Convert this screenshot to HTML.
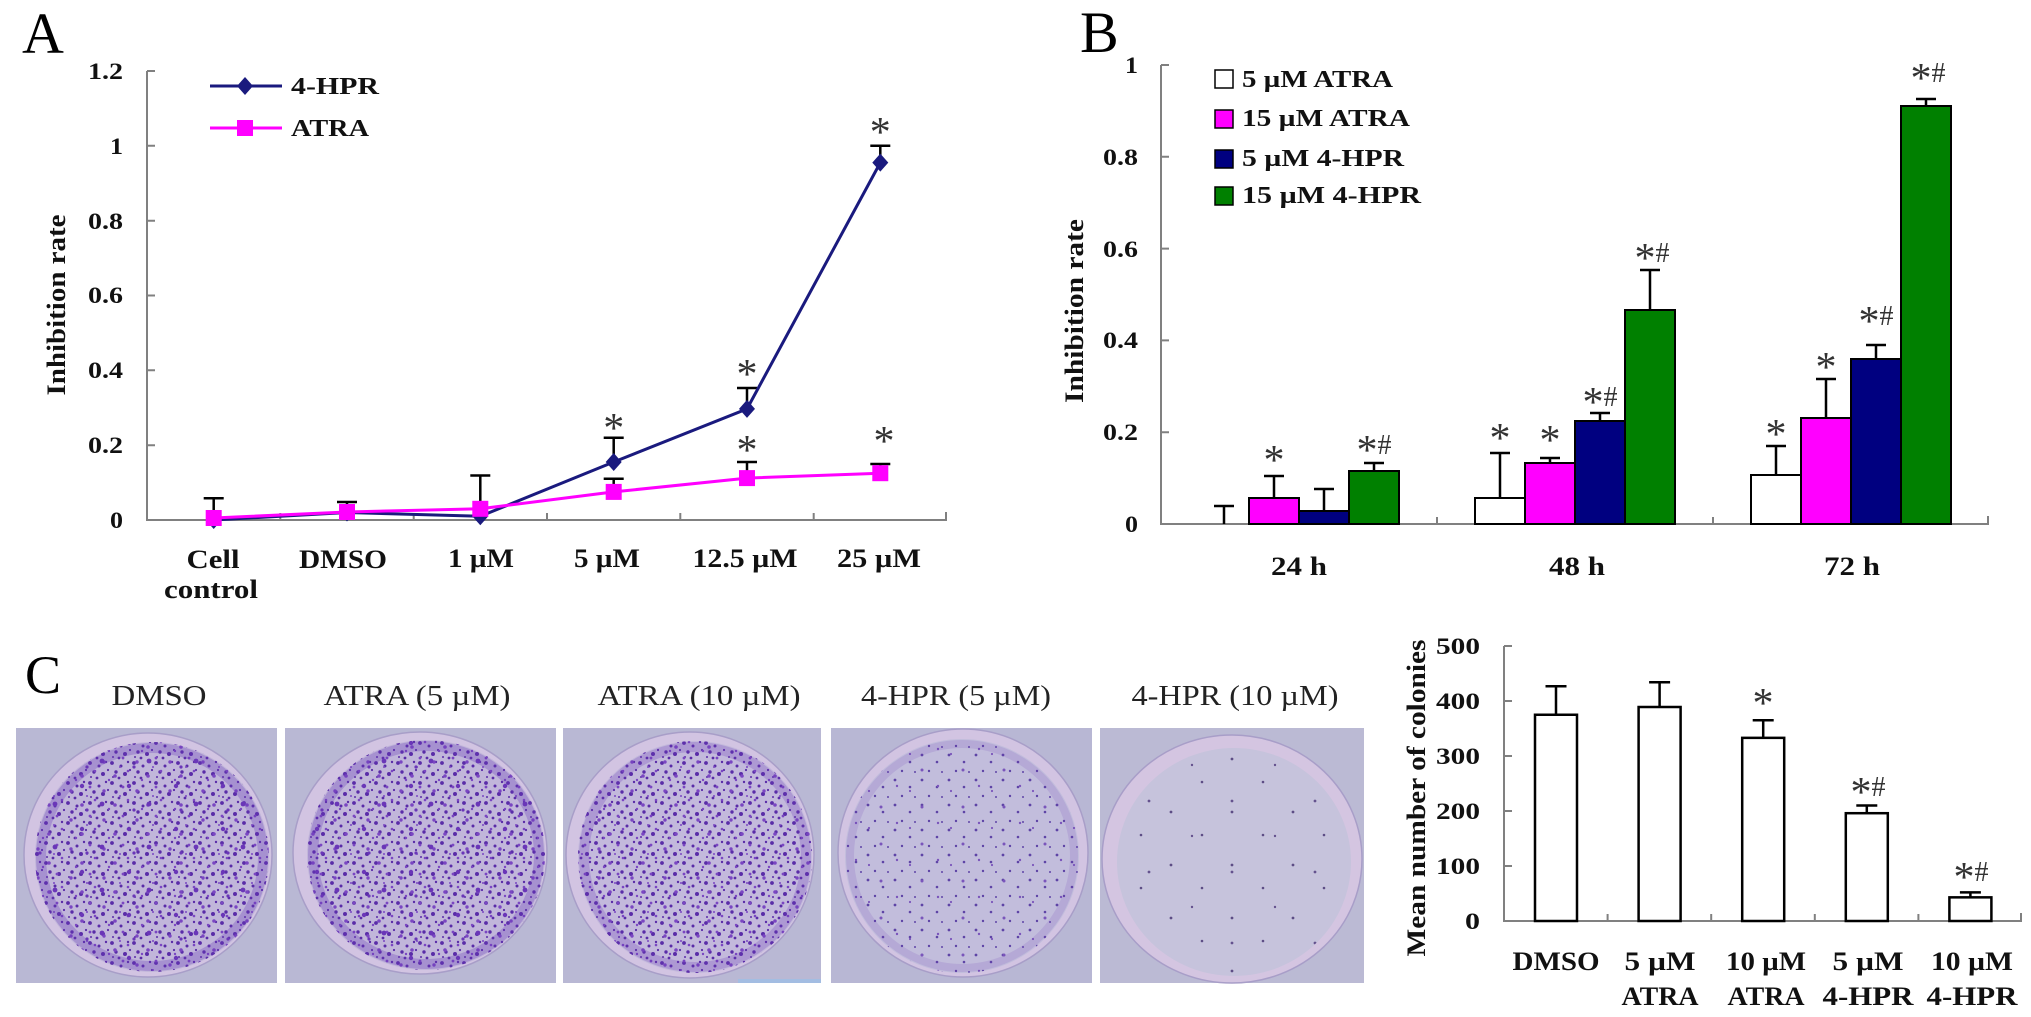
<!DOCTYPE html>
<html><head><meta charset="utf-8">
<style>
html,body{margin:0;padding:0;background:#fff;}
svg{display:block}
text{font-family:"Liberation Serif",serif;}
</style></head>
<body>
<svg width="2031" height="1017" viewBox="0 0 2031 1017" xmlns="http://www.w3.org/2000/svg">
<defs>
<pattern id="pd1" width="22" height="20" patternUnits="userSpaceOnUse">
<g fill="#5a2ca8"><circle cx="2" cy="3" r="1.9"/><circle cx="11" cy="6" r="1.5"/><circle cx="18" cy="2" r="1.2"/><circle cx="6" cy="12" r="1.7"/><circle cx="15" cy="14" r="2"/><circle cx="20" cy="10" r="1.1"/><circle cx="9" cy="18" r="1.4"/><circle cx="3" cy="17" r="1"/></g>
</pattern>
<pattern id="pd2" width="33" height="29" patternUnits="userSpaceOnUse">
<g fill="#7a46c2"><circle cx="5" cy="8" r="1.7"/><circle cx="24" cy="4" r="1.4"/><circle cx="16" cy="22" r="1.8"/><circle cx="29" cy="17" r="1.3"/><circle cx="10" cy="26" r="1.2"/><circle cx="21" cy="13" r="1"/></g>
</pattern>
<pattern id="pd3" width="47" height="43" patternUnits="userSpaceOnUse">
<g fill="#6a36b8"><circle cx="8" cy="30" r="2.4"/><circle cx="35" cy="12" r="2.2"/><circle cx="40" cy="36" r="1.6"/></g>
</pattern>
<pattern id="pm1" width="27" height="25" patternUnits="userSpaceOnUse">
<g fill="#5e44a6"><circle cx="4" cy="5" r="1.4"/><circle cx="19" cy="12" r="1.3"/><circle cx="11" cy="21" r="1.2"/><circle cx="24" cy="22" r="1"/></g>
</pattern>
<pattern id="pm2" width="41" height="37" patternUnits="userSpaceOnUse">
<g fill="#7a55bb"><circle cx="20" cy="30" r="1.5"/><circle cx="36" cy="9" r="1.2"/><circle cx="8" cy="14" r="1.1"/></g>
</pattern>
<pattern id="ps1" width="61" height="53" patternUnits="userSpaceOnUse">
<g fill="#5d4d85"><circle cx="12" cy="17" r="1.4"/><circle cx="43" cy="40" r="1.3"/></g>
</pattern>
<pattern id="ps2" width="83" height="71" patternUnits="userSpaceOnUse">
<g fill="#64528e"><circle cx="30" cy="55" r="1.2"/><circle cx="70" cy="20" r="1.4"/></g>
</pattern>
</defs>

<!-- ================= PANEL A ================= -->
<text x="22" y="53" font-size="58">A</text>
<g stroke="#808080" stroke-width="2" fill="none">
<path d="M147,71 V520 H947"/>
<path d="M147,71 h8 M147,145.8 h8 M147,220.7 h8 M147,295.5 h8 M147,370.3 h8 M147,445.2 h8"/>
<path d="M280.3,520 v-7 M413.7,520 v-7 M547,520 v-7 M680.3,520 v-7 M813.7,520 v-7 M946,520 v-8"/>
</g>
<g font-weight="bold" font-size="23" text-anchor="end" fill="#111">
<text x="123" y="79" textLength="35" lengthAdjust="spacingAndGlyphs">1.2</text>
<text x="123" y="154" textLength="13" lengthAdjust="spacingAndGlyphs">1</text>
<text x="123" y="229" textLength="35" lengthAdjust="spacingAndGlyphs">0.8</text>
<text x="123" y="303" textLength="35" lengthAdjust="spacingAndGlyphs">0.6</text>
<text x="123" y="378" textLength="35" lengthAdjust="spacingAndGlyphs">0.4</text>
<text x="123" y="453" textLength="35" lengthAdjust="spacingAndGlyphs">0.2</text>
<text x="123" y="528" textLength="13" lengthAdjust="spacingAndGlyphs">0</text>
</g>
<text transform="translate(65,305) rotate(-90)" text-anchor="middle" font-weight="bold" font-size="26" textLength="181" lengthAdjust="spacingAndGlyphs" fill="#111">Inhibition rate</text>
<g font-weight="bold" font-size="26" text-anchor="middle" fill="#111">
<text x="213" y="568" textLength="53" lengthAdjust="spacingAndGlyphs">Cell</text>
<text x="211" y="598" textLength="94" lengthAdjust="spacingAndGlyphs">control</text>
<text x="343" y="568" textLength="88" lengthAdjust="spacingAndGlyphs">DMSO</text>
<text x="481" y="567" textLength="66" lengthAdjust="spacingAndGlyphs">1 µM</text>
<text x="607" y="567" textLength="66" lengthAdjust="spacingAndGlyphs">5 µM</text>
<text x="745" y="567" textLength="105" lengthAdjust="spacingAndGlyphs">12.5 µM</text>
<text x="879" y="567" textLength="84" lengthAdjust="spacingAndGlyphs">25 µM</text>
</g>
<!-- legend A -->
<path d="M210,86 H282" stroke="#1a1a7e" stroke-width="3"/>
<path d="M245,77 L253,86 L245,95 L237,86 Z" fill="#1a1a7e"/>
<path d="M210,128 H282" stroke="#ff00ff" stroke-width="3"/>
<rect x="237" y="120" width="16" height="16" fill="#ff00ff"/>
<g font-weight="bold" font-size="24" fill="#111">
<text x="291" y="94" textLength="88" lengthAdjust="spacingAndGlyphs">4-HPR</text>
<text x="291" y="136" textLength="78" lengthAdjust="spacingAndGlyphs">ATRA</text>
</g>
<!-- error bars A -->
<g stroke="#000" stroke-width="2.5" fill="none">
<path d="M213.7,518 V498.3 M203.7,498.3 H223.7"/>
<path d="M347,512 V502 M337,502 H357"/>
<path d="M480.3,509 V475.5 M470.3,475.5 H490.3"/>
<path d="M613.7,462 V437.7 M603.7,437.7 H623.7"/>
<path d="M613.7,492 V478.8 M603.7,478.8 H623.7"/>
<path d="M747,409 V388 M737,388 H757"/>
<path d="M747,478 V462 M737,462 H757"/>
<path d="M880.3,162.6 V145.8 M870.3,145.8 H890.3"/>
<path d="M880.3,473 V464 M870.3,464 H890.3"/>
</g>
<!-- 4-HPR series -->
<polyline points="213.7,520 347,512.5 480.3,516.3 613.7,462 747,408.9 880.3,162.6" fill="none" stroke="#1a1a7e" stroke-width="3"/>
<g fill="#1a1a7e">
<path d="M213.7,511 l8,9 l-8,9 l-8,-9 Z"/>
<path d="M347,503.5 l8,9 l-8,9 l-8,-9 Z"/>
<path d="M480.3,507.3 l8,9 l-8,9 l-8,-9 Z"/>
<path d="M613.7,453 l8,9 l-8,9 l-8,-9 Z"/>
<path d="M747,399.9 l8,9 l-8,9 l-8,-9 Z"/>
<path d="M880.3,153.6 l8,9 l-8,9 l-8,-9 Z"/>
</g>
<!-- ATRA series -->
<polyline points="213.7,518 347,512 480.3,508.8 613.7,491.9 747,478.1 880.3,473.2" fill="none" stroke="#ff00ff" stroke-width="3"/>
<g fill="#ff00ff">
<rect x="205.7" y="510" width="16" height="16"/>
<rect x="339" y="504" width="16" height="16"/>
<rect x="472.3" y="500.8" width="16" height="16"/>
<rect x="605.7" y="483.9" width="16" height="16"/>
<rect x="739" y="470.1" width="16" height="16"/>
<rect x="872.3" y="465.2" width="16" height="16"/>
</g>
<g font-size="42" text-anchor="middle" fill="#333">
<text x="613.7" y="442">*</text>
<text x="747" y="388">*</text>
<text x="747" y="464">*</text>
<text x="880.3" y="146">*</text>
<text x="884" y="455">*</text>
</g>

<!-- ================= PANEL B ================= -->
<text x="1080" y="52" font-size="58">B</text>
<g stroke="#808080" stroke-width="2" fill="none">
<path d="M1161,65 V524 H1989"/>
<path d="M1161,65 h8 M1161,156.8 h8 M1161,248.6 h8 M1161,340.4 h8 M1161,432.2 h8"/>
<path d="M1437,524 v-7 M1713,524 v-7 M1988,524 v-8"/>
</g>
<g font-weight="bold" font-size="23" text-anchor="end" fill="#111">
<text x="1138" y="73" textLength="13" lengthAdjust="spacingAndGlyphs">1</text>
<text x="1138" y="165" textLength="35" lengthAdjust="spacingAndGlyphs">0.8</text>
<text x="1138" y="257" textLength="35" lengthAdjust="spacingAndGlyphs">0.6</text>
<text x="1138" y="348" textLength="35" lengthAdjust="spacingAndGlyphs">0.4</text>
<text x="1138" y="440" textLength="35" lengthAdjust="spacingAndGlyphs">0.2</text>
<text x="1138" y="532" textLength="13" lengthAdjust="spacingAndGlyphs">0</text>
</g>
<text transform="translate(1083,311) rotate(-90)" text-anchor="middle" font-weight="bold" font-size="26" textLength="184" lengthAdjust="spacingAndGlyphs" fill="#111">Inhibition rate</text>
<g font-weight="bold" font-size="26" text-anchor="middle" fill="#111">
<text x="1299" y="575" textLength="56" lengthAdjust="spacingAndGlyphs">24 h</text>
<text x="1577" y="575" textLength="56" lengthAdjust="spacingAndGlyphs">48 h</text>
<text x="1852" y="575" textLength="56" lengthAdjust="spacingAndGlyphs">72 h</text>
</g>
<!-- bars B -->
<g stroke="#000" stroke-width="2">
<rect x="1249" y="498" width="50" height="26" fill="#ff00ff"/>
<rect x="1299" y="511" width="50" height="13" fill="#000080"/>
<rect x="1349" y="471" width="50" height="53" fill="#008000"/>
<rect x="1475" y="498" width="50" height="26" fill="#ffffff"/>
<rect x="1525" y="463" width="50" height="61" fill="#ff00ff"/>
<rect x="1575" y="421" width="50" height="103" fill="#000080"/>
<rect x="1625" y="310" width="50" height="214" fill="#008000"/>
<rect x="1751" y="475" width="50" height="49" fill="#ffffff"/>
<rect x="1801" y="418" width="50" height="106" fill="#ff00ff"/>
<rect x="1851" y="359" width="50" height="165" fill="#000080"/>
<rect x="1901" y="106" width="50" height="418" fill="#008000"/>
</g>
<g stroke="#000" stroke-width="2.5" fill="none">
<path d="M1224,524 V506 M1214,506 H1234"/>
<path d="M1274,498 V476 M1264,476 H1284"/>
<path d="M1324,511 V489 M1314,489 H1334"/>
<path d="M1374,471 V463 M1364,463 H1384"/>
<path d="M1500,498 V453 M1490,453 H1510"/>
<path d="M1550,463 V458 M1540,458 H1560"/>
<path d="M1600,421 V413 M1590,413 H1610"/>
<path d="M1650,310 V270 M1640,270 H1660"/>
<path d="M1776,475 V446 M1766,446 H1786"/>
<path d="M1826,418 V379 M1816,379 H1836"/>
<path d="M1876,359 V345 M1866,345 H1886"/>
<path d="M1926,106 V99 M1916,99 H1936"/>
</g>
<g text-anchor="middle" fill="#333">
<text x="1274" y="474" font-size="42">*</text>
<text x="1374" y="464"><tspan font-size="42">*</tspan><tspan font-size="28" dy="-10">#</tspan></text>
<text x="1500" y="452" font-size="42">*</text>
<text x="1550" y="454" font-size="42">*</text>
<text x="1600" y="416"><tspan font-size="42">*</tspan><tspan font-size="28" dy="-10">#</tspan></text>
<text x="1652" y="272"><tspan font-size="42">*</tspan><tspan font-size="28" dy="-10">#</tspan></text>
<text x="1776" y="448" font-size="42">*</text>
<text x="1826" y="381" font-size="42">*</text>
<text x="1876" y="335"><tspan font-size="42">*</tspan><tspan font-size="28" dy="-10">#</tspan></text>
<text x="1928" y="92"><tspan font-size="42">*</tspan><tspan font-size="28" dy="-10">#</tspan></text>
</g>
<!-- legend B -->
<g stroke="#000" stroke-width="1.5">
<rect x="1215" y="70" width="18" height="18" fill="#fff"/>
<rect x="1215" y="110" width="18" height="18" fill="#ff00ff"/>
<rect x="1215" y="150" width="18" height="18" fill="#000080"/>
<rect x="1215" y="187" width="18" height="18" fill="#008000"/>
</g>
<g font-weight="bold" font-size="24" fill="#111">
<text x="1242" y="87" textLength="151" lengthAdjust="spacingAndGlyphs">5 µM ATRA</text>
<text x="1242" y="126" textLength="168" lengthAdjust="spacingAndGlyphs">15 µM ATRA</text>
<text x="1242" y="166" textLength="162" lengthAdjust="spacingAndGlyphs">5 µM 4-HPR</text>
<text x="1242" y="203" textLength="179" lengthAdjust="spacingAndGlyphs">15 µM 4-HPR</text>
</g>

<!-- ================= PANEL C ================= -->
<text x="25" y="693" font-size="54">C</text>
<g font-size="29" text-anchor="middle" fill="#222">
<text x="159" y="705" textLength="95" lengthAdjust="spacingAndGlyphs">DMSO</text>
<text x="417" y="705" textLength="187" lengthAdjust="spacingAndGlyphs">ATRA (5 µM)</text>
<text x="699" y="705" textLength="203" lengthAdjust="spacingAndGlyphs">ATRA (10 µM)</text>
<text x="956" y="705" textLength="190" lengthAdjust="spacingAndGlyphs">4-HPR (5 µM)</text>
<text x="1235" y="705" textLength="207" lengthAdjust="spacingAndGlyphs">4-HPR (10 µM)</text>
</g>

<!-- photo 1 -->
<rect x="16" y="728" width="261" height="255" fill="#b9b8d4"/>
<ellipse cx="148" cy="855" rx="124" ry="122" fill="#d2c4e2" stroke="#a89ec8" stroke-width="1.5"/>
<ellipse cx="152" cy="857" rx="117" ry="115" fill="#c1b6da"/>
<ellipse cx="152" cy="857" rx="117" ry="115" fill="url(#pd1)"/>
<ellipse cx="152" cy="857" rx="117" ry="115" fill="url(#pd2)"/>
<ellipse cx="152" cy="857" rx="117" ry="115" fill="url(#pd3)"/>
<ellipse cx="152" cy="857" rx="111" ry="109" fill="none" stroke="#6b3ab8" stroke-opacity="0.3" stroke-width="10"/>
<!-- photo 2 -->
<rect x="285" y="728" width="271" height="255" fill="#b9b8d4"/>
<ellipse cx="420" cy="853" rx="127" ry="121" fill="#d2c4e2" stroke="#a89ec8" stroke-width="1.5"/>
<ellipse cx="426" cy="855" rx="119" ry="115" fill="#c1b6da"/>
<ellipse cx="426" cy="855" rx="119" ry="115" fill="url(#pd1)"/>
<ellipse cx="426" cy="855" rx="119" ry="115" fill="url(#pd2)"/>
<ellipse cx="426" cy="855" rx="119" ry="115" fill="url(#pd3)"/>
<ellipse cx="426" cy="855" rx="113" ry="109" fill="none" stroke="#6b3ab8" stroke-opacity="0.3" stroke-width="10"/>
<!-- photo 3 -->
<rect x="563" y="728" width="258" height="255" fill="#b9b8d4"/>
<ellipse cx="690" cy="855" rx="124" ry="123" fill="#d2c4e2" stroke="#a89ec8" stroke-width="1.5"/>
<ellipse cx="695" cy="857" rx="117" ry="116" fill="#c3b9dc"/>
<ellipse cx="695" cy="857" rx="117" ry="116" fill="url(#pd1)"/>
<ellipse cx="695" cy="857" rx="117" ry="116" fill="url(#pd2)"/>
<ellipse cx="695" cy="857" rx="111" ry="110" fill="none" stroke="#6b3ab8" stroke-opacity="0.25" stroke-width="10"/>
<rect x="738" y="979" width="83" height="4" fill="#a3bde2"/>
<!-- photo 4 -->
<rect x="831" y="728" width="261" height="255" fill="#b8b7d4"/>
<ellipse cx="963" cy="853" rx="125" ry="124" fill="#d2c4e2" stroke="#a89ec8" stroke-width="1.5"/>
<ellipse cx="962" cy="856" rx="117" ry="117" fill="#c2bddc"/>
<ellipse cx="962" cy="856" rx="117" ry="117" fill="url(#pm1)"/>
<ellipse cx="962" cy="856" rx="117" ry="117" fill="url(#pm2)"/>
<ellipse cx="962" cy="856" rx="112" ry="112" fill="none" stroke="#6b3ab8" stroke-opacity="0.15" stroke-width="8"/>
<!-- photo 5 -->
<rect x="1100" y="728" width="264" height="255" fill="#bbbad4"/>
<ellipse cx="1232" cy="859" rx="130" ry="124" fill="#d4c5e1" stroke="#a89ec8" stroke-width="1.5"/>
<ellipse cx="1234" cy="862" rx="117" ry="114" fill="#c6c3dc"/>
<ellipse cx="1234" cy="862" rx="117" ry="114" fill="url(#ps1)"/>
<ellipse cx="1234" cy="862" rx="117" ry="114" fill="url(#ps2)"/>

<!-- colonies chart -->
<g stroke="#808080" stroke-width="2" fill="none">
<path d="M1504,646 V921 H2022"/>
<path d="M1504,646 h8 M1504,701 h8 M1504,756 h8 M1504,811 h8 M1504,866 h8"/>
<path d="M1607.6,921 v-7 M1711.2,921 v-7 M1814.8,921 v-7 M1918.4,921 v-7 M2021,921 v-8"/>
</g>
<g font-weight="bold" font-size="23" text-anchor="end" fill="#111">
<text x="1480" y="654" textLength="44" lengthAdjust="spacingAndGlyphs">500</text>
<text x="1480" y="709" textLength="44" lengthAdjust="spacingAndGlyphs">400</text>
<text x="1480" y="764" textLength="44" lengthAdjust="spacingAndGlyphs">300</text>
<text x="1480" y="819" textLength="44" lengthAdjust="spacingAndGlyphs">200</text>
<text x="1480" y="874" textLength="44" lengthAdjust="spacingAndGlyphs">100</text>
<text x="1480" y="929" textLength="15" lengthAdjust="spacingAndGlyphs">0</text>
</g>
<text transform="translate(1425,798) rotate(-90)" text-anchor="middle" font-weight="bold" font-size="26" textLength="317" lengthAdjust="spacingAndGlyphs" fill="#111">Mean number of colonies</text>
<g stroke="#000" stroke-width="2.5" fill="#fff">
<rect x="1535" y="714.75" width="42" height="206.25"/>
<rect x="1638.6" y="707" width="42" height="214"/>
<rect x="1742.2" y="737.85" width="42" height="183.15"/>
<rect x="1845.8" y="813.2" width="42" height="107.8"/>
<rect x="1949.4" y="897.35" width="42" height="23.65"/>
</g>
<g stroke="#000" stroke-width="2.5" fill="none">
<path d="M1556,714.75 V686.2 M1545.5,686.2 H1566.5"/>
<path d="M1659.6,707 V682.3 M1649.1,682.3 H1670.1"/>
<path d="M1763.2,737.85 V720.25 M1752.7,720.25 H1773.7"/>
<path d="M1866.8,813.2 V805.5 M1856.3,805.5 H1877.3"/>
<path d="M1970.4,897.35 V892.4 M1959.9,892.4 H1980.9"/>
</g>
<g text-anchor="middle" fill="#333">
<text x="1763" y="717" font-size="42">*</text>
<text x="1868" y="806"><tspan font-size="42">*</tspan><tspan font-size="28" dy="-10">#</tspan></text>
<text x="1971" y="891"><tspan font-size="42">*</tspan><tspan font-size="28" dy="-10">#</tspan></text>
</g>
<g font-weight="bold" font-size="26" text-anchor="middle" fill="#111">
<text x="1556" y="970" textLength="87" lengthAdjust="spacingAndGlyphs">DMSO</text>
<text x="1660" y="970" textLength="71" lengthAdjust="spacingAndGlyphs">5 µM</text>
<text x="1660" y="1005" textLength="77" lengthAdjust="spacingAndGlyphs">ATRA</text>
<text x="1766" y="970" textLength="80" lengthAdjust="spacingAndGlyphs">10 µM</text>
<text x="1766" y="1005" textLength="77" lengthAdjust="spacingAndGlyphs">ATRA</text>
<text x="1868" y="970" textLength="71" lengthAdjust="spacingAndGlyphs">5 µM</text>
<text x="1868" y="1005" textLength="91" lengthAdjust="spacingAndGlyphs">4-HPR</text>
<text x="1972" y="970" textLength="82" lengthAdjust="spacingAndGlyphs">10 µM</text>
<text x="1972" y="1005" textLength="91" lengthAdjust="spacingAndGlyphs">4-HPR</text>
</g>
</svg>
</body></html>
